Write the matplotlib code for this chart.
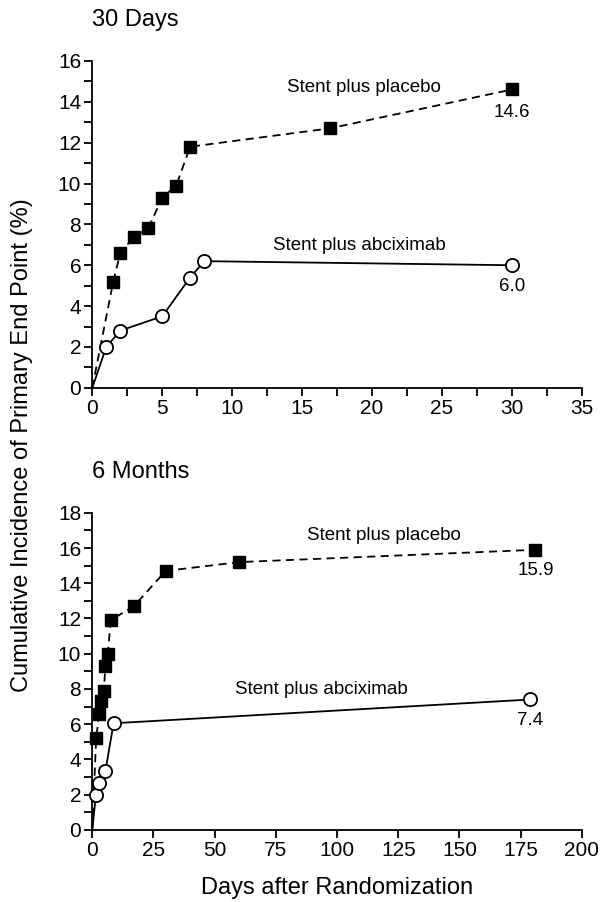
import matplotlib
matplotlib.use('Agg')
import matplotlib.pyplot as plt
from matplotlib.ticker import MultipleLocator

plt.rcParams['font.family'] = ['Liberation Sans', 'DejaVu Sans']

# 30-day follow-up
days_30_placebo = [0, 1.5, 2, 3, 4, 5, 6, 7, 17, 30]
inc_30_placebo = [0, 5.2, 6.6, 7.4, 7.8, 9.3, 9.9, 11.8, 12.7, 14.6]
days_30_abcix = [0, 1, 2, 5, 7, 8, 30]
inc_30_abcix = [0, 2.0, 2.8, 3.5, 5.4, 6.2, 6.0]

# 6-month follow-up
days_6m_placebo = [0, 1.6, 2.8, 3.7, 4.7, 5.4, 6.4, 7.5, 17, 30, 60, 181]
inc_6m_placebo = [0, 5.2, 6.6, 7.3, 7.9, 9.3, 10.0, 11.9, 12.7, 14.7, 15.2, 15.9]
days_6m_abcix = [0, 1.5, 2.7, 5.4, 8.7, 179]
inc_6m_abcix = [0, 2.0, 2.65, 3.35, 6.05, 7.4]

TICK_FS = 15
ANNOT_FS = 13.5
TITLE_FS = 17


def draw_panel(ax, xp, yp, xa, ya, xmax, xstep, xminor, ymax):
    # curves start at the origin, but no marker is drawn there
    ax.plot(xp, yp, color='black', lw=1.3, ls=(0, (4.5, 3)), marker='s', ms=8.5,
            mfc='black', mec='black', markevery=list(range(1, len(xp))),
            clip_on=False, zorder=3)
    ax.plot(xa, ya, color='black', lw=1.3, ls='-', marker='o', ms=9.5,
            mfc='white', mec='black', mew=1.3, markevery=list(range(1, len(xa))),
            clip_on=False, zorder=4)
    ax.set_xlim(0, xmax)
    ax.set_ylim(0, ymax)
    for side in ['top', 'right']:
        ax.spines[side].set_visible(False)
    for side in ['left', 'bottom']:
        ax.spines[side].set_linewidth(1.3)
    ax.xaxis.set_major_locator(MultipleLocator(xstep))
    if xminor:
        ax.xaxis.set_minor_locator(MultipleLocator(xminor))
    ax.yaxis.set_major_locator(MultipleLocator(2))
    ax.yaxis.set_minor_locator(MultipleLocator(1))
    ax.tick_params(which='both', direction='out', width=1.3, length=6,
                   labelsize=TICK_FS, pad=2)


fig = plt.figure(figsize=(6.03, 9.02), dpi=100)

ax1 = fig.add_axes([0.153, 0.570, 0.812, 0.3625])
draw_panel(ax1, days_30_placebo, inc_30_placebo, days_30_abcix, inc_30_abcix,
           35, 5, 2.5, 16)
fig.text(0.153, 0.978, '30 Days', fontsize=TITLE_FS, ha='left', va='center')
ax1.text(19.4, 14.7, 'Stent plus placebo', fontsize=ANNOT_FS, ha='center', va='center')
ax1.text(19.1, 6.95, 'Stent plus abciximab', fontsize=ANNOT_FS, ha='center', va='center')
ax1.text(days_30_placebo[-1], inc_30_placebo[-1] - 1.15, '14.6', fontsize=ANNOT_FS,
         ha='center', va='center')
ax1.text(days_30_abcix[-1], inc_30_abcix[-1] - 1.05, '6.0', fontsize=ANNOT_FS,
         ha='center', va='center')

ax2 = fig.add_axes([0.153, 0.080, 0.812, 0.3515])
draw_panel(ax2, days_6m_placebo, inc_6m_placebo, days_6m_abcix, inc_6m_abcix,
           200, 25, None, 18)
fig.text(0.153, 0.477, '6 Months', fontsize=TITLE_FS, ha='left', va='center')
ax2.text(119, 16.7, 'Stent plus placebo', fontsize=ANNOT_FS, ha='center', va='center')
ax2.text(93.5, 7.95, 'Stent plus abciximab', fontsize=ANNOT_FS, ha='center', va='center')
ax2.text(days_6m_placebo[-1], inc_6m_placebo[-1] - 1.15, '15.9', fontsize=ANNOT_FS,
         ha='center', va='center')
ax2.text(days_6m_abcix[-1], inc_6m_abcix[-1] - 1.2, '7.4', fontsize=ANNOT_FS,
         ha='center', va='center')
ax2.set_xlabel('Days after Randomization', fontsize=TITLE_FS, labelpad=12)

fig.text(0.036, 0.507, 'Cumulative Incidence of Primary End Point (%)',
         fontsize=TITLE_FS, rotation=90, ha='center', va='center')

fig.savefig('out.png', dpi=100, facecolor='white')
